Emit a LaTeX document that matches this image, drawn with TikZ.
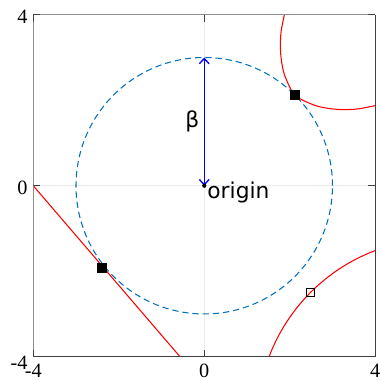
\documentclass[tikz,border=0pt]{standalone}
\usepackage{fontspec}
\setmainfont{Liberation Serif}
\newfontfamily\labelfont{DejaVu Sans}
\usetikzlibrary{arrows.meta}
\definecolor{mblue}{rgb}{0,0.447,0.741}
\definecolor{axgray}{HTML}{8C8C8C}
\definecolor{axdark}{HTML}{404040}
\definecolor{gridgray}{HTML}{EBEBEB}
\begin{document}
\begin{tikzpicture}[x=1cm,y=1cm,
  ticklab/.style={font=\fontsize{13.5}{13.5}\selectfont, inner sep=0pt, text=black},
  ann/.style={font=\labelfont\fontsize{14.5}{14.5}\selectfont, inner sep=0pt},
  curve/.style={red, line width=0.7pt},
  fsq/.style={draw=black, fill=black, minimum size=5.8pt, inner sep=0pt, rectangle, line width=0.5pt},
  osq/.style={draw=black, fill=none, line width=0.7pt, minimum size=5.4pt, inner sep=0pt, rectangle},
  axtick/.style={axdark, line width=0.7pt},
  circdash/.style={mblue, line width=0.7pt, dash pattern=on 4.2pt off 2.6pt},
  betaarrow/.style={blue, line width=0.9pt, {Straight Barb[length=3.5pt,width=6.5pt]}-{Straight Barb[length=3.5pt,width=6.5pt]}}
]
\useasboundingbox (-4.778,-4.544) rectangle (4.135,4.345);
% grid
\draw[gridgray, line width=0.6pt] (0,-4) -- (0,4);
\draw[gridgray, line width=0.6pt] (-4,0) -- (4,0);
% curves
\begin{scope}
\clip (-4,-4) rectangle (4,4);
\draw[circdash] (0,0) circle (3);
\draw[curve] (-4,0) -- (-0.567,-4);
\draw[curve] plot[smooth] coordinates {(1.885,4.05) (1.80,3.62) (1.78,3.25) (1.81,2.90) (1.89,2.56) (2.12,2.12) (2.56,1.89) (2.90,1.81) (3.25,1.78) (3.62,1.80) (4.05,1.885)};
\draw[curve] (5.5,-5.5) circle (4.255);
\end{scope}
% axes box
\draw[axgray, line width=0.9pt] (-4,-4) -- (-4,4) -- (4,4);
\draw[axdark, line width=0.9pt] (-4,-4) -- (4,-4) -- (4,4);
% ticks
\foreach \v in {-4,0,4}{
  \draw[axtick] (\v,-4) -- ++(0,0.165);
  \draw[axtick] (\v,4) -- ++(0,-0.165);
  \draw[axtick] (-4,\v) -- ++(0.165,0);
  \draw[axtick] (4,\v) -- ++(-0.165,0);
}
% tick labels
\node[ticklab, anchor=east] (y4) at (-4.13,3.96) {4};
\node[ticklab, anchor=east] (y0) at (-4.13,-0.05) {0};
\node[ticklab, anchor=east] (ym4) at (-4.13,-4.15) {-4};
\node[ticklab, anchor=north] (xm4) at (-4,-4.175) {-4};
\node[ticklab, anchor=north] (x0) at (0,-4.175) {0};
\node[ticklab, anchor=north] (x4) at (4,-4.175) {4};
% beta arrow
\coordinate (O) at (0,0);
\coordinate (T) at (0,3);
\draw[betaarrow] (O) -- (T);
\fill[black] (O) circle (1.4pt);
\node[ann, anchor=base west] (orig) at (0.067,-0.31) {origin};
\node[ann, anchor=base] (beta) at (-0.28,1.36) {β};
% markers
\node[fsq] (s1) at (2.12,2.12) {};
\node[fsq] (s2) at (-2.39,-1.92) {};
\node[osq] (s3) at (2.49,-2.49) {};
\end{tikzpicture}
\end{document}
